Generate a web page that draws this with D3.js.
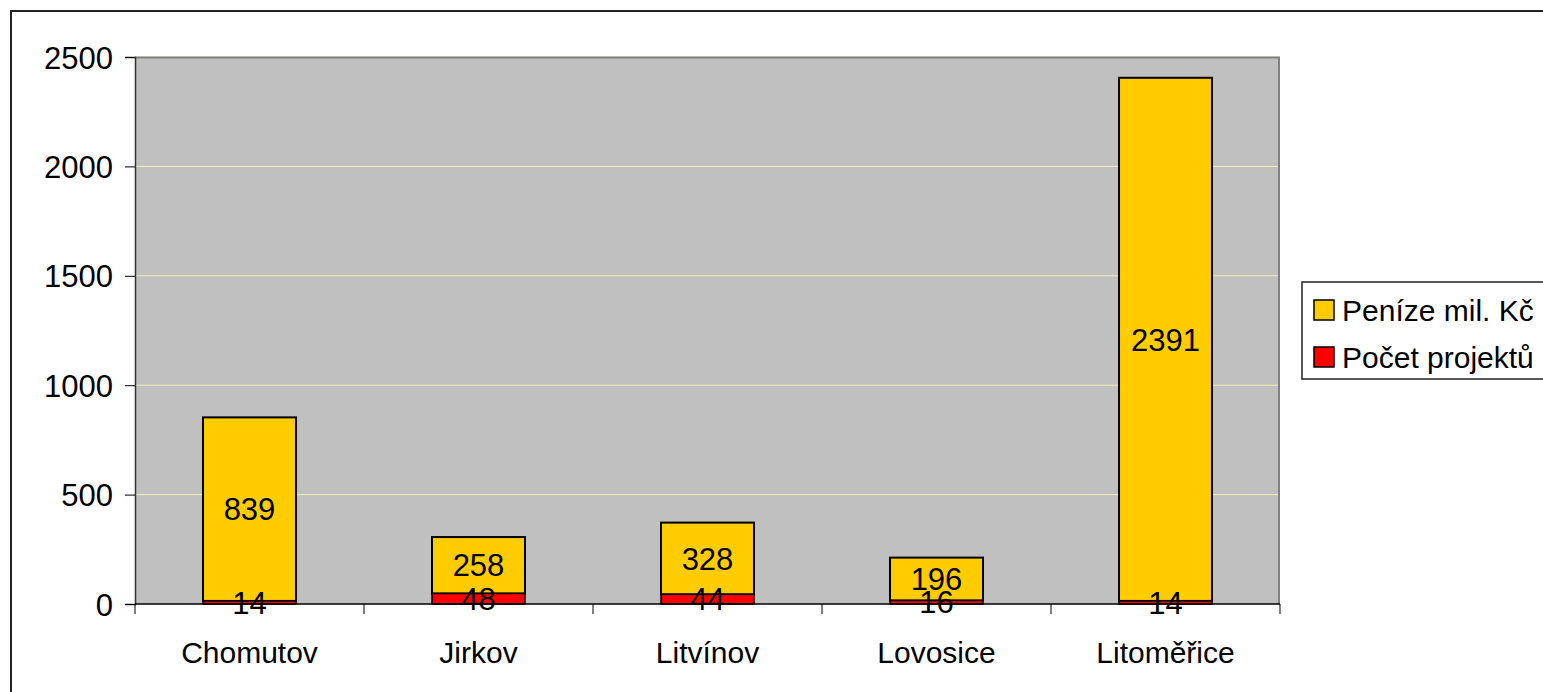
<!DOCTYPE html>
<html>
<head>
<meta charset="utf-8">
<script src="https://cdn.jsdelivr.net/npm/d3@7"></script>
<style>
  body { margin: 0; background: #fff; }
  svg text { font-family: "Liberation Sans", Arial, sans-serif; fill: #000; }
</style>
</head>
<body>
<div id="chart"></div>
<script>
// data
var cities = ["Chomutov", "Jirkov", "Litvínov", "Lovosice", "Litoměřice"];
var projekty = [14, 48, 44, 16, 14];
var penize = [839, 258, 328, 196, 2391];
var seriesNames = ["Peníze mil. Kč", "Počet projektů"];
var yTicks = [0, 500, 1000, 1500, 2000, 2500];

var svgWidth = 1543, svgHeight = 692;
var plot = { left: 135, top: 57, right: 1280, bottom: 604 };
var width = plot.right - plot.left;
var height = plot.bottom - plot.top;

var svg = d3.select("#chart").append("svg")
    .attr("width", svgWidth)
    .attr("height", svgHeight);

// outer chart border
svg.append("rect")
    .attr("x", 11).attr("y", 11)
    .attr("width", svgWidth + 20).attr("height", svgHeight + 20)
    .attr("fill", "#fff").attr("stroke", "#222").attr("stroke-width", 2);

var g = svg.append("g").attr("transform", "translate(" + plot.left + "," + plot.top + ")");

var x = d3.scaleBand().domain(cities).range([0, width]).paddingInner(0.594).paddingOuter(0.297);
var y = d3.scaleLinear().domain([0, 2500]).range([height, 0]);

// plot background
g.append("rect")
    .attr("width", width).attr("height", height)
    .attr("fill", "#c0c0c0");

// gridlines
g.selectAll(".grid").data(yTicks.filter(function(d) { return d > 0; }))
    .enter().append("line")
    .attr("x1", 0).attr("x2", width)
    .attr("y1", function(d) { return y(d); })
    .attr("y2", function(d) { return y(d); })
    .attr("stroke", "#eeeeb4").attr("stroke-width", 1);

// plot border top/right
g.append("path")
    .attr("d", "M0,0.5H" + (width - 1) + "V" + height)
    .attr("fill", "none").attr("stroke", "#808080").attr("stroke-width", 2);

// stacked bars
var stacked = cities.map(function(c, i) {
    return { city: c, red: projekty[i], yellow: penize[i] };
});

var bars = g.selectAll(".bar").data(stacked).enter().append("g");

bars.append("rect")
    .attr("x", function(d) { return x(d.city); })
    .attr("y", function(d) { return y(d.red + d.yellow); })
    .attr("width", x.bandwidth())
    .attr("height", function(d) { return y(d.red) - y(d.red + d.yellow); })
    .attr("fill", "#ffcc00").attr("stroke", "#000").attr("stroke-width", 2);

bars.append("rect")
    .attr("x", function(d) { return x(d.city); })
    .attr("y", function(d) { return y(d.red); })
    .attr("width", x.bandwidth())
    .attr("height", function(d) { return y(0) - y(d.red); })
    .attr("fill", "#ff0000").attr("stroke", "#000").attr("stroke-width", 1.5);

// axes
var leftAxis = d3.axisLeft(y).tickValues(yTicks).tickFormat(d3.format("d")).tickSize(10).tickPadding(12);
var gy = g.append("g").call(leftAxis);
gy.select(".domain").attr("stroke", "#333").attr("stroke-width", 1.5);
gy.selectAll(".tick line").attr("stroke", "#000");
gy.selectAll("text").style("font-size", "31px").attr("dy", "0.36em");

// bottom axis line + ticks at category boundaries
var gx = g.append("g").attr("transform", "translate(0," + height + ")");
gx.append("line").attr("x1", 0).attr("x2", width).attr("stroke", "#000").attr("stroke-width", 1.5);
var bounds = cities.map(function(c) { return x(c) - x.step() * x.paddingInner() / 2; });
bounds.push(width);
gx.selectAll(".xt").data(bounds).enter().append("line")
    .attr("x1", function(d) { return d; }).attr("x2", function(d) { return d; })
    .attr("y1", 0).attr("y2", 10)
    .attr("stroke", "#000");
gx.selectAll(".xl").data(cities).enter().append("text")
    .attr("x", function(d) { return x(d) + x.bandwidth() / 2; })
    .attr("y", 59)
    .attr("text-anchor", "middle")
    .style("font-size", "30px")
    .text(function(d) { return d; });

// value labels
bars.append("text")
    .attr("x", function(d) { return x(d.city) + x.bandwidth() / 2; })
    .attr("y", function(d) { return y(d.red + d.yellow / 2); })
    .attr("dy", "0.36em")
    .attr("text-anchor", "middle")
    .style("font-size", "31px")
    .text(function(d) { return d.yellow; });

bars.append("text")
    .attr("x", function(d) { return x(d.city) + x.bandwidth() / 2; })
    .attr("y", function(d) { return y(d.red / 2); })
    .attr("dy", "0.36em")
    .attr("text-anchor", "middle")
    .style("font-size", "31px")
    .text(function(d) { return d.red; });

// legend
var legend = svg.append("g").attr("transform", "translate(1302,282)");
legend.append("rect")
    .attr("width", 300).attr("height", 97)
    .attr("fill", "#fff").attr("stroke", "#222").attr("stroke-width", 1.5);
var legendColors = ["#ffcc00", "#ff0000"];
seriesNames.forEach(function(name, i) {
    var row = legend.append("g").attr("transform", "translate(0," + (18 + i * 47) + ")");
    row.append("rect")
        .attr("x", 12).attr("y", 0).attr("width", 20).attr("height", 20)
        .attr("fill", legendColors[i]).attr("stroke", "#000").attr("stroke-width", 1.5);
    row.append("text")
        .attr("x", 40).attr("y", 10).attr("dy", "0.36em")
        .style("font-size", "30px")
        .text(name);
});
</script>
</body>
</html>
